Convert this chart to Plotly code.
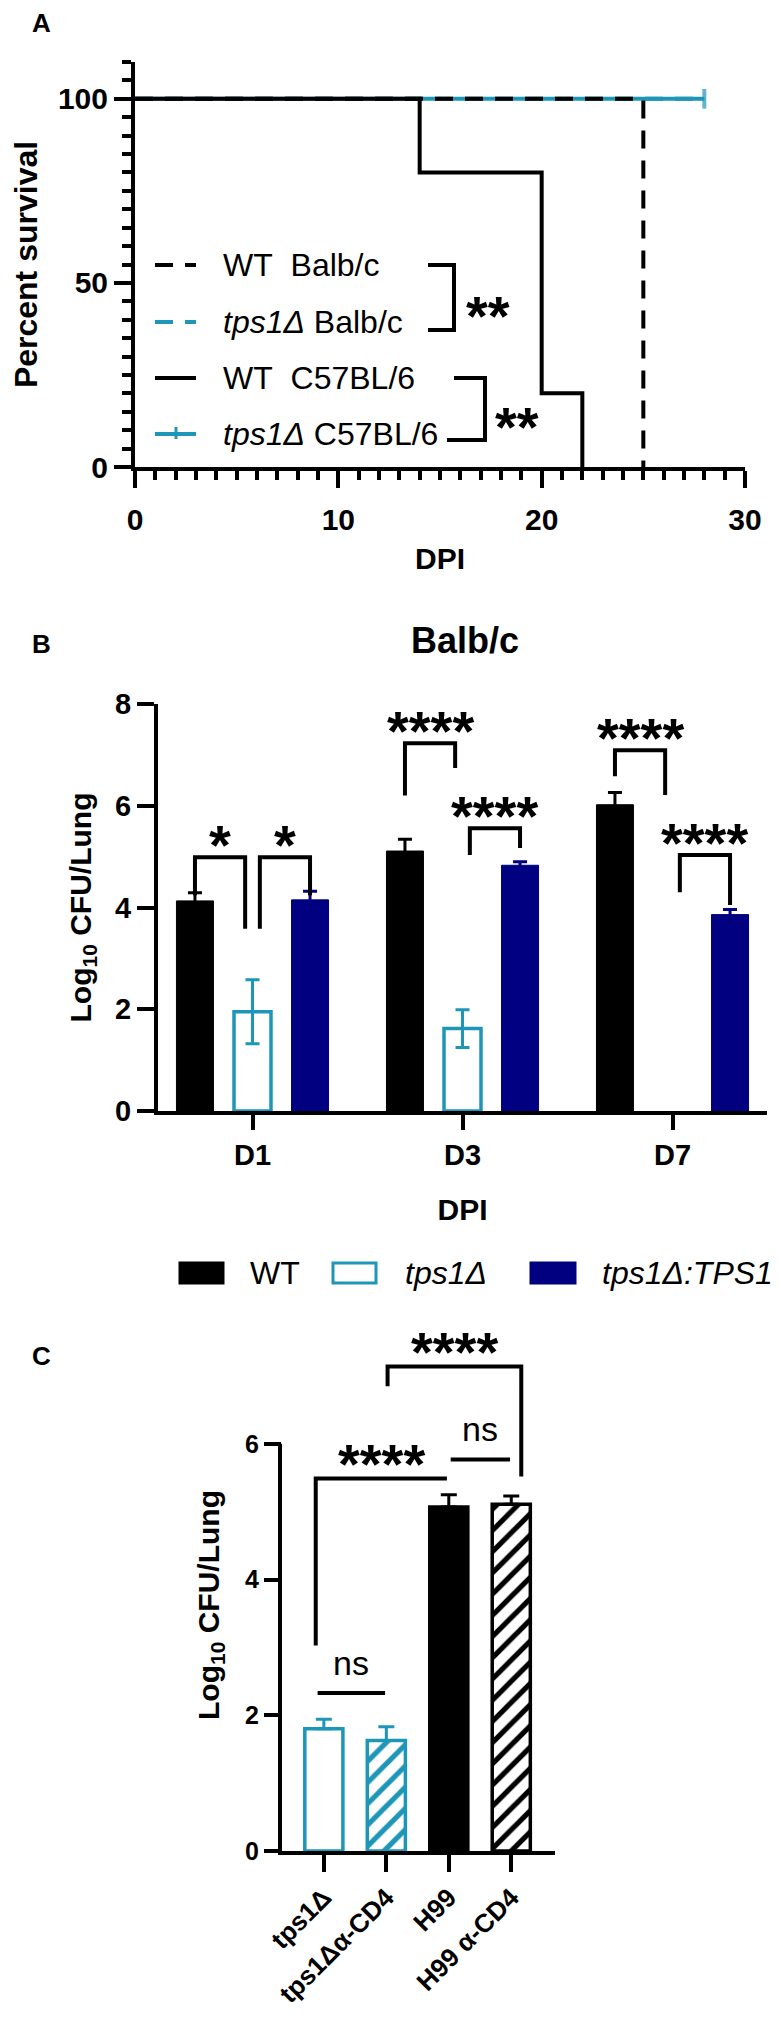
import plotly.graph_objects as go

W, H = 780, 2019
FONT = "Liberation Sans, Arial, Helvetica, sans-serif"
CYAN = "#1E96B8"
NAVY = "#000080"
BLACK = "#000000"

# ======================= DATA =======================
# Panel A - Kaplan-Meier survival (step times in DPI, percent survival)
dpi_wt_balb = [0, 25]
surv_wt_balb = [100, 0]
dpi_tps1_balb = [0, 28]
surv_tps1_balb = [100, 100]
dpi_wt_c57 = [0, 14, 20, 22]
surv_wt_c57 = [100, 80, 20, 0]
dpi_tps1_c57 = [0, 28]
surv_tps1_c57 = [100, 100]
legend_a_labels = ["WT\u00a0 Balb/c", "<i>tps1Δ</i> Balb/c",
                   "WT\u00a0 C57BL/6", "<i>tps1Δ</i> C57BL/6"]
sig_a_labels = ["**", "**"]

# Panel B - fungal burden, Balb/c
days_b = ["D1", "D3", "D7"]
legend_b_labels = ["WT", "tps1Δ", "tps1Δ:TPS1"]
wt_b = [4.13, 5.11, 6.02]
wt_b_err = [0.16, 0.23, 0.24]
tps1_b = [1.95, 1.62, None]
tps1_b_err = [0.63, 0.37, None]
comp_b = [4.15, 4.83, 3.86]
comp_b_err = [0.17, 0.07, 0.10]
# significance brackets: (day index, bar a, bar b, top, end of leg a, end of leg b, label)
sig_b = [
    (0, 0, 1, 4.99, 4.24, 3.58, "*"),
    (0, 1, 2, 4.99, 3.58, 4.24, "*"),
    (1, 0, 1, 7.23, 6.20, 6.74, "****"),
    (1, 1, 2, 5.56, 5.03, 5.17, "****"),
    (2, 0, 1, 7.09, 6.58, 6.21, "****"),
    (2, 1, 2, 5.03, 4.30, 4.05, "****"),
]

# Panel C - CD4 depletion
groups_c = ["tps1Δ", "tps1Δα-CD4", "H99", "H99 α-CD4"]
cfu_c = [1.80, 1.63, 5.07, 5.11]
cfu_c_err = [0.14, 0.20, 0.18, 0.12]
# significance: (label, left end, right end, top, left leg end, right leg end)
sig_c = [
    ("ns", -0.10, 0.98, 2.33, None, None),
    ("****", -0.13, 1.97, 5.49, 3.03, None),
    ("ns", 2.03, 2.98, 5.77, None, None),
    ("****", 1.02, 3.16, 7.14, 6.85, 5.52),
]

# ======================= LAYOUT HELPERS =======================
def px(x):
    return x / W


def py(y):
    return 1 - y / H


BARGAP, BARGROUPGAP = 0.178, 0.357
STAR_SIZE = 56
DASH = "18px,12px"

fig = go.Figure()
annotations = []
shapes = []


def text_ann(text, x, y, size, bold=False, xanchor="center", yanchor="middle",
             xref="paper", yref="paper", yshift=0, italic=False):
    annotations.append(dict(
        text=text, x=x, y=y, xref=xref, yref=yref, showarrow=False,
        xanchor=xanchor, yanchor=yanchor, yshift=yshift,
        font=dict(family=FONT, size=size, color=BLACK,
                  weight="bold" if bold else "normal",
                  style="italic" if italic else "normal"),
    ))


# ======================= PANEL A =======================
fig.add_trace(go.Scatter(
    x=dpi_tps1_c57, y=surv_tps1_c57, mode="lines+markers", name=legend_a_labels[3],
    line=dict(color=CYAN, width=4, shape="hv"),
    marker=dict(symbol="line-ns", size=[0, 14], color=CYAN,
                line=dict(color=CYAN, width=4)),
    xaxis="x", yaxis="y", hoverinfo="skip"))
fig.add_trace(go.Scatter(
    x=dpi_tps1_balb, y=surv_tps1_balb, mode="lines", name=legend_a_labels[1],
    line=dict(color=CYAN, width=4, dash=DASH, shape="hv"),
    xaxis="x", yaxis="y", hoverinfo="skip"))
fig.add_trace(go.Scatter(
    x=dpi_wt_balb, y=surv_wt_balb, mode="lines", name=legend_a_labels[0],
    line=dict(color=BLACK, width=4, dash=DASH, shape="hv"),
    xaxis="x", yaxis="y", hoverinfo="skip"))
fig.add_trace(go.Scatter(
    x=dpi_wt_c57, y=surv_wt_c57, mode="lines", name=legend_a_labels[2],
    line=dict(color=BLACK, width=4, shape="hv"),
    xaxis="x", yaxis="y", hoverinfo="skip"))

# in-plot legend for panel A
legend_rows_y = [257, 314, 370, 426]
legend_styles = [(BLACK, DASH), (CYAN, DASH), (BLACK, "solid"), (CYAN, "solid")]
for label, ry, (col, dash) in zip(legend_a_labels, legend_rows_y, legend_styles):
    shapes.append(dict(type="line", xref="paper", yref="paper",
                       x0=px(147), x1=px(188), y0=py(ry), y1=py(ry),
                       line=dict(color=col, width=4, dash=dash)))
    text_ann(label, px(213), py(ry), 32, xanchor="left")
# censor tick on the last legend sample
shapes.append(dict(type="line", xref="paper", yref="paper",
                   x0=px(168), x1=px(168), y0=py(legend_rows_y[3] - 7),
                   y1=py(legend_rows_y[3] + 5), line=dict(color=CYAN, width=3)))


# comparison brackets beside the legend
def paper_path(pts):
    return "M " + " L ".join(f"{px(a):.5f},{py(b):.5f}" for a, b in pts)


shapes.append(dict(type="path", xref="paper", yref="paper",
                   path=paper_path([(420, 257), (446, 257), (446, 322), (420, 322)]),
                   line=dict(color=BLACK, width=4)))
shapes.append(dict(type="path", xref="paper", yref="paper",
                   path=paper_path([(446, 370), (477, 370), (477, 432), (439, 432)]),
                   line=dict(color=BLACK, width=4)))
text_ann(sig_a_labels[0], px(480), py(295), STAR_SIZE, bold=True, yshift=-12)
text_ann(sig_a_labels[1], px(509), py(407), STAR_SIZE, bold=True, yshift=-12)

# ======================= PANEL B =======================
xb = list(range(len(days_b)))
series_b = [
    (wt_b, wt_b_err, BLACK, BLACK, 1, "WT"),
    (tps1_b, tps1_b_err, "white", CYAN, 3.5, "tps1Δ"),
    (comp_b, comp_b_err, NAVY, NAVY, 1, "tps1Δ:TPS1"),
]
for vals, errs, fill, edge, lw, name in series_b:
    fig.add_trace(go.Bar(
        x=xb, y=vals, name=name,
        marker=dict(color=fill, line=dict(color=edge, width=lw)),
        error_y=dict(type="data", array=errs, visible=True, color=edge,
                     thickness=3, width=7),
        xaxis="x2", yaxis="y2", hoverinfo="skip"))

n_b = len(series_b)
step_b = (1 - BARGAP) / n_b


def bar_center(day, k):
    return day + (k - (n_b - 1) / 2) * step_b


bx, by = [], []
for day, a, b, top, ea, eb, lab in sig_b:
    xa = bar_center(day, a) + (0.035 if a == 1 else 0)
    xbb = bar_center(day, b) - (0.035 if b == 1 else 0)
    bx += [xa, xa, xbb, xbb, None]
    by += [ea, top, top, eb, None]
    text_ann(lab, (xa + xbb) / 2, top, STAR_SIZE, bold=True,
             xref="x2", yref="y2", yshift=13)
fig.add_trace(go.Scatter(x=bx, y=by, mode="lines", line=dict(color=BLACK, width=4),
                         xaxis="x2", yaxis="y2", hoverinfo="skip", showlegend=False))

# legend for panel B
legend_b_swatch = [(172, 215, BLACK, BLACK), (325, 368, "white", CYAN), (523, 567, NAVY, NAVY)]
legend_b_text_x = [240, 395, 592]
legend_b_italic = [False, True, True]
for label, (x0, x1, fill, edge), tx, it in zip(legend_b_labels, legend_b_swatch,
                                               legend_b_text_x, legend_b_italic):
    shapes.append(dict(type="rect", xref="paper", yref="paper",
                       x0=px(x0), x1=px(x1), y0=py(1275), y1=py(1255),
                       fillcolor=fill, line=dict(color=edge, width=3)))
    text_ann(label, px(tx), py(1265), 32, xanchor="left", italic=it)

text_ann("Balb/c", px(457), py(632), 36, bold=True)

# ======================= PANEL C =======================
xc = list(range(len(groups_c)))
c_styles = [  # (fill, edge, hatch)
    ("white", CYAN, ""),
    ("white", CYAN, "/"),
    (BLACK, BLACK, ""),
    ("white", BLACK, "/"),
]
for i, (fill, edge, hatch) in enumerate(c_styles):
    marker = dict(color=fill, line=dict(color=edge, width=3.5))
    if hatch:
        marker["pattern"] = dict(shape=hatch, fgcolor=edge, bgcolor="white",
                                 size=15, solidity=0.35, fillmode="replace")
    fig.add_trace(go.Bar(
        x=[xc[i]], y=[cfu_c[i]], width=0.61, offsetgroup="c", name=groups_c[i],
        marker=marker,
        error_y=dict(type="data", symmetric=False, array=[cfu_c_err[i]], arrayminus=[0],
                     color=edge, thickness=3, width=8),
        xaxis="x3", yaxis="y3", hoverinfo="skip"))

cx, cy = [], []
for lab, xl, xr, top, el, er in sig_c:
    if el is not None:
        cx.append(xl); cy.append(el)
    cx += [xl, xr]; cy += [top, top]
    if er is not None:
        cx.append(xr); cy.append(er)
    cx.append(None); cy.append(None)
    if lab == "ns":
        text_ann(lab, (xl + xr) / 2, top, 34, xref="x3", yref="y3", yshift=30)
    else:
        text_ann(lab, (xl + xr) / 2, top, STAR_SIZE, bold=True,
                 xref="x3", yref="y3", yshift=15)
fig.add_trace(go.Scatter(x=cx, y=cy, mode="lines", line=dict(color=BLACK, width=4),
                         xaxis="x3", yaxis="y3", hoverinfo="skip", showlegend=False))

# panel C y-axis line only up to 6
C_YRANGE = [0, 7.25]
C_DOM = [py(1843), py(1351)]
c_top_paper = C_DOM[0] + (6 - C_YRANGE[0]) / (C_YRANGE[1] - C_YRANGE[0]) * (C_DOM[1] - C_DOM[0])
shapes.append(dict(type="line", xref="paper", yref="paper",
                   x0=px(274) - 2 / W, x1=px(274) - 2 / W, y0=C_DOM[0] - 4 / H, y1=c_top_paper,
                   line=dict(color=BLACK, width=4)))

# panel letters
text_ann("A", px(33), py(15), 26, bold=True)
text_ann("B", px(33), py(636), 26, bold=True)
text_ann("C", px(33), py(1348), 26, bold=True)


# ======================= AXES =======================
def axis(**kw):
    d = dict(showgrid=False, zeroline=False, showline=True, linecolor=BLACK, linewidth=4,
             ticks="outside", tickcolor=BLACK, tickwidth=4, ticklen=17,
             tickfont=dict(family=FONT, size=29, color=BLACK, weight="bold"),
             automargin=False, fixedrange=True)
    d.update(kw)
    return d


def title(text, size, standoff):
    return dict(text=text, standoff=standoff,
                font=dict(family=FONT, size=size, color=BLACK, weight="bold"))


fig.update_layout(
    width=W, height=H, template="none",
    margin=dict(l=0, r=0, t=0, b=0),
    paper_bgcolor="white", plot_bgcolor="white",
    font=dict(family=FONT, color=BLACK),
    showlegend=False,
    barmode="group", bargap=BARGAP, bargroupgap=BARGROUPGAP,
    xaxis=axis(domain=[px(127), px(737)], range=[0, 30], tick0=0, dtick=10, anchor="y",
               minor=dict(ticks="outside", dtick=1, ticklen=9, tickwidth=3.5, tickcolor=BLACK),
               ticklabelstandoff=6, title=title("DPI", 30, 14),
               tickfont=dict(family=FONT, size=30, color=BLACK, weight="bold")),
    yaxis=axis(domain=[py(459), py(54)], range=[0, 110], tick0=0, dtick=50, anchor="x",
               minor=dict(ticks="outside", dtick=5, ticklen=9, tickwidth=3.5, tickcolor=BLACK),
               title=title("Percent survival", 32, 16),
               tickfont=dict(family=FONT, size=30, color=BLACK, weight="bold")),
    xaxis2=axis(domain=[px(150), px(759)], range=[-0.45, 2.45], tickvals=xb, ticktext=days_b,
                ticklen=15, anchor="y2", title=title("DPI", 30, 30)),
    yaxis2=axis(domain=[py(1103), py(696)], range=[0, 8], tick0=0, dtick=2, anchor="x2",
                title=title("Log<sub>10</sub> CFU/Lung", 30, 16)),
    xaxis3=axis(domain=[px(274), px(547)], range=[-0.67, 3.70], tickvals=xc, ticktext=groups_c,
                tickangle=-45, anchor="y3", ticklabelstandoff=0,
                tickfont=dict(family=FONT, size=26, color=BLACK, weight="bold")),
    yaxis3=axis(domain=C_DOM, range=C_YRANGE, tickvals=[0, 2, 4, 6], anchor="x3",
                showline=False, title=title("Log<sub>10</sub> CFU/Lung", 30, 16),
                tickfont=dict(family=FONT, size=25, color=BLACK, weight="bold")),
    annotations=annotations,
    shapes=shapes,
)

fig.write_html("out.html")
